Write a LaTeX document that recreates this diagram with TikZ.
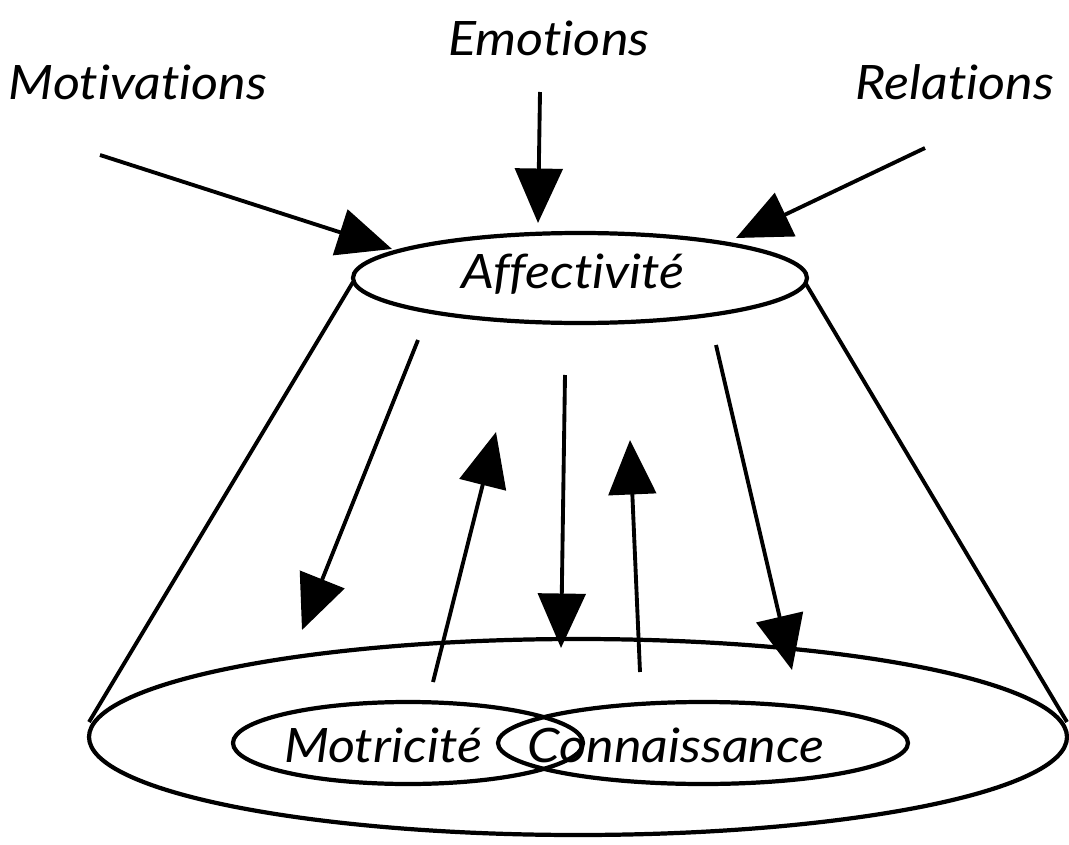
\documentclass[tikz,border=0pt]{standalone}
\usepackage{fontspec}
\setmainfont[Ligatures={NoCommon}]{Lato}
\newfontfamily\lblfont[Ligatures={NoCommon},FakeStretch=1.1]{Lato}
\usetikzlibrary{arrows.meta}
\begin{document}
\begin{tikzpicture}[x=0.02cm,y=-0.02cm,
  line width=2.2pt,
  lbl/.style={font=\lblfont\itshape\fontsize{27}{30}\selectfont, inner sep=0pt},
  inlbl/.style={font=\lblfont\itshape\fontsize{27}{30}\selectfont, inner sep=0pt},
  bigarrow/.style={-{Triangle[length=31pt,width=27pt]}, line width=2.2pt},
  ring/.style={draw, line width=2.4pt}]
\useasboundingbox (0,0) rectangle (1069,845);
% cone
\draw[ring] (580,278) ellipse [x radius=227, y radius=45];
\draw[ring] (578,737) ellipse [x radius=489, y radius=98];
\draw (353,282) -- (89,722);
\draw (806,284) -- (1067,722);
% inner ellipses
\draw[ring] (408,743) ellipse [x radius=175, y radius=41];
\draw[ring] (703,743) ellipse [x radius=205, y radius=41];
% labels
\node[inlbl] (aff) at (573,274) {Affectivité};
\node[inlbl] (mot) at (383,745) {Motricité};
\node[inlbl] (con) at (676,745) {Connaissance};
\node[lbl] (motiv) at (138,82) {Motivations};
\node[lbl] (emo) at (549,38) {Emotions};
\node[lbl] (rel) at (955,82) {Relations};
% coordinates for arrows
\coordinate (a1s) at (100,155); \coordinate (a1e) at (392,249);
\coordinate (a2s) at (540,92);  \coordinate (a2e) at (538,223);
\coordinate (a3s) at (925,148); \coordinate (a3e) at (736,238);
\coordinate (b1s) at (418,340); \coordinate (b1e) at (302,630);
\coordinate (b2s) at (433,682); \coordinate (b2e) at (496,432);
\coordinate (b3s) at (565,375); \coordinate (b3e) at (561,648);
\coordinate (b4s) at (640,672); \coordinate (b4e) at (630,440);
\coordinate (b5s) at (716,345); \coordinate (b5e) at (792,670);
\draw[bigarrow] (a1s) -- (a1e);
\draw[bigarrow] (a2s) -- (a2e);
\draw[bigarrow] (a3s) -- (a3e);
\draw[bigarrow] (b1s) -- (b1e);
\draw[bigarrow] (b2s) -- (b2e);
\draw[bigarrow] (b3s) -- (b3e);
\draw[bigarrow] (b4s) -- (b4e);
\draw[bigarrow] (b5s) -- (b5e);
\end{tikzpicture}
\end{document}
